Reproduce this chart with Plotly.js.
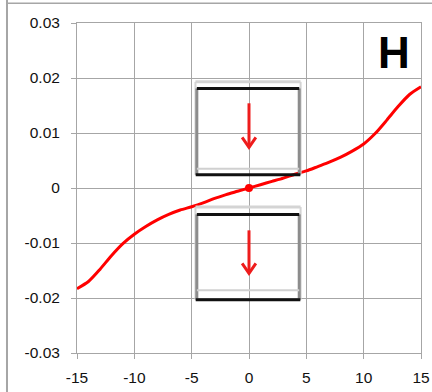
<!DOCTYPE html>
<html><head><meta charset="utf-8">
<script src="https://cdn.plot.ly/plotly-3.0.1.min.js"></script>
<style>html,body{margin:0;padding:0;background:#fff;}#chart{width:432px;height:392px;}</style>
</head><body><div id="chart"></div>
<script>
const xValues = [-15,-14,-13,-12,-11,-10,-9,-8,-7,-6,-5,-4,-3,-2,-1,0,1,2,3,4,5,6,7,8,9,10,11,12,13,14,15];
const yValues = [-0.0183,-0.0170,-0.0148,-0.0123,-0.0101,-0.0084,-0.0070,-0.0058,-0.0048,-0.0040,-0.0034,-0.0027,-0.0019,-0.0012,-0.0006,0,0.0006,0.0012,0.0018,0.0025,0.0031,0.0039,0.0047,0.0056,0.0067,0.0080,0.0099,0.0123,0.0148,0.0170,0.0184];
const centerPoint = {x:[0], y:[0]};
const xTicks = [-15,-10,-5,0,5,10,15];
const yTicks = [-0.03,-0.02,-0.01,0,0.01,0.02,0.03];
const yTickText = ['-0.03','-0.02','-0.01','0','0.01','0.02','0.03'];
const panelLabel = 'H';

function box(top, blackTop, lightBottom, blackBottom){
  const xl=-4.55, xr=4.38;
  return [
    {type:'line',xref:'x',yref:'y',x0:xl-0.12,x1:xr+0.12,y0:top,y1:top,line:{color:'#d4d4d4',width:3}},
    {type:'line',xref:'x',yref:'y',x0:xl-0.12,x1:xl-0.12,y0:top,y1:blackBottom,line:{color:'#d4d4d4',width:2}},
    {type:'line',xref:'x',yref:'y',x0:xr+0.12,x1:xr+0.12,y0:top,y1:blackBottom,line:{color:'#d4d4d4',width:2}},
    {type:'line',xref:'x',yref:'y',x0:xl,x1:xl,y0:blackTop,y1:blackBottom,line:{color:'#8c8c8c',width:3}},
    {type:'line',xref:'x',yref:'y',x0:xr,x1:xr,y0:blackTop,y1:blackBottom,line:{color:'#8c8c8c',width:3}},
    {type:'line',xref:'x',yref:'y',x0:xl,x1:xr,y0:blackTop,y1:blackTop,line:{color:'#111',width:3}},
    {type:'line',xref:'x',yref:'y',x0:xl,x1:xr,y0:lightBottom,y1:lightBottom,line:{color:'#d0d0d0',width:2}},
    {type:'line',xref:'x',yref:'y',x0:xl-0.1,x1:xr+0.1,y0:blackBottom,y1:blackBottom,line:{color:'#111',width:3}}
  ];
}
function arrow(y0,y1,yh){
  return [
    {type:'line',xref:'x',yref:'y',x0:0,x1:0,y0:y0,y1:y1,line:{color:'#ee1c1c',width:3}},
    {type:'path',xref:'x',yref:'y',path:`M -0.6 ${yh} L 0 ${y1} L 0.6 ${yh}`,line:{color:'#ee1c1c',width:3}}
  ];
}
const shapes = [].concat(
  box(0.0193,0.0181,0.0035,0.0024),
  box(-0.00345,-0.0048,-0.0186,-0.0203),
  arrow(0.0154,0.0074,0.0092),
  arrow(-0.0077,-0.0155,-0.0137),
  [
    {type:'line',xref:'paper',yref:'paper',x0:-0.2035,x1:-0.2035,y0:-0.13,y1:1.07,line:{color:'#a6a6a6',width:2}},
    {type:'line',xref:'paper',yref:'paper',x0:-0.2035,x1:1.05,y0:1.06,y1:1.06,line:{color:'#a6a6a6',width:1.5}}
  ]
);

const traces = [
  {x:xValues,y:yValues,mode:'lines',line:{color:'#ff0000',width:3,shape:'spline',smoothing:0.7},hoverinfo:'skip'},
  {x:centerPoint.x,y:centerPoint.y,mode:'markers',marker:{color:'#ff0000',size:8},hoverinfo:'skip'}
];

const axisCommon = {showgrid:true,gridcolor:'#a6a6a6',gridwidth:1,showline:true,linecolor:'#a6a6a6',linewidth:1,mirror:true,
  ticks:'outside',ticklen:5,tickcolor:'#a6a6a6',zeroline:false,tickfont:{family:'Liberation Sans, Arial, sans-serif',size:15.5,color:'#111'}};

const layout = {
  width:432,height:392,
  margin:{l:77,r:11,t:23,b:39},
  paper_bgcolor:'#fff',plot_bgcolor:'#fff',
  showlegend:false,
  xaxis:Object.assign({},axisCommon,{range:[-15,15],tickvals:xTicks,ticktext:xTicks.map(String),ticklabelstandoff:5}),
  yaxis:Object.assign({},axisCommon,{range:[-0.03,0.03],tickvals:yTicks,ticktext:yTickText,ticklabelstandoff:8}),
  shapes:shapes,
  annotations:[{text:'<b>'+panelLabel+'</b>',xref:'paper',yref:'paper',x:0.922,y:0.912,xanchor:'center',yanchor:'middle',showarrow:false,font:{family:'Liberation Sans, Arial, sans-serif',size:44,color:'#000'}}]
};
Plotly.newPlot('chart',traces,layout,{displayModeBar:false,staticPlot:true});
</script></body></html>
